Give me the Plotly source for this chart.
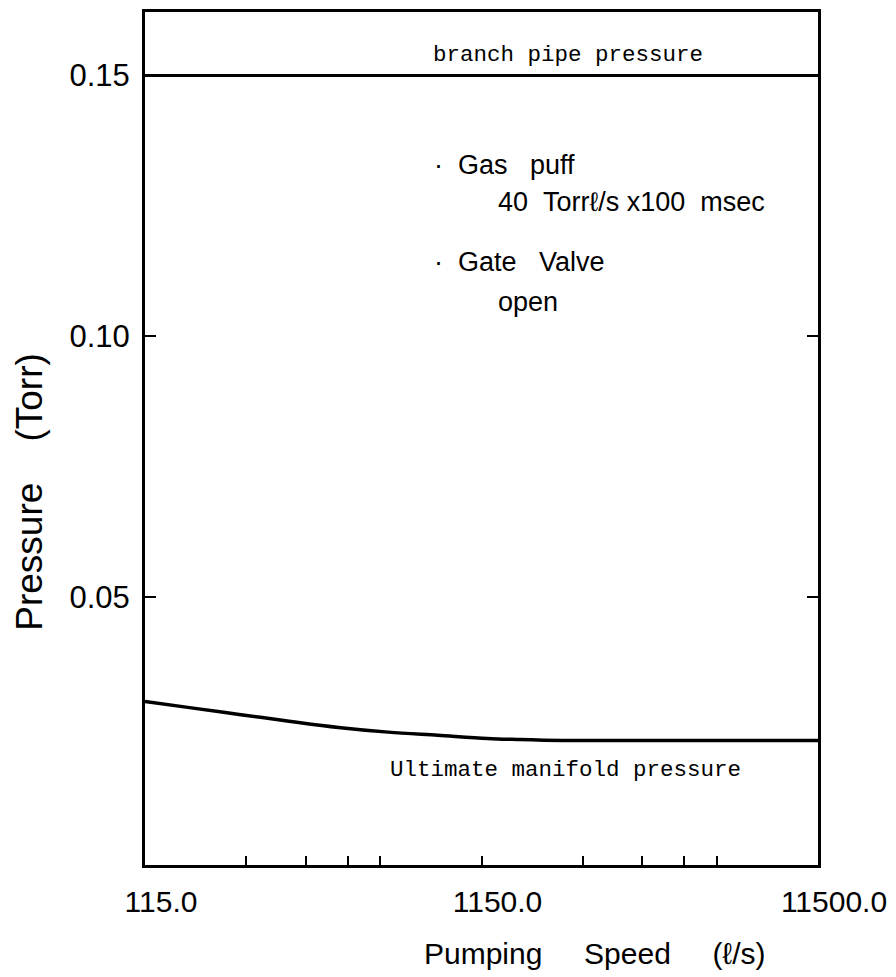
import math
import plotly.graph_objects as go

# Pumping speed (l/s), logarithmic axis
speed = [115, 156, 219, 308, 432, 607, 853, 1198, 1469, 2000, 3000, 5000, 8000, 11500]
# Ultimate manifold pressure (Torr)
manifold = [0.0299, 0.0287, 0.0274, 0.0261, 0.0249, 0.0240, 0.0234, 0.0228, 0.0226,
            0.0224, 0.0224, 0.0224, 0.0224, 0.0224]
# Branch pipe pressure (Torr)
branch_x = [115, 11500]
branch_y = [0.15, 0.15]

x_tickvals = [115, 1150, 11500]
x_ticktext = ["115.0", "1150.0", "11500.0"]
x_minor = [230, 345, 460, 575, 2300, 3450, 4600, 5750]
y_tickvals = [0.05, 0.10, 0.15]
y_ticktext = ["0.05", "0.10", "0.15"]

sans = "Liberation Sans, Arial, sans-serif"
mono = "Liberation Mono, DejaVu Sans Mono, monospace"
NB = "\u00a0"

fig = go.Figure()
fig.add_trace(go.Scatter(x=branch_x, y=branch_y, mode="lines",
                         line=dict(color="black", width=3), showlegend=False))
fig.add_trace(go.Scatter(x=speed, y=manifold, mode="lines", line_shape="spline",
                         line=dict(color="black", width=3.5), showlegend=False))

# curve labels
fig.add_annotation(x=0.628, y=0.1540, xref="x domain", yref="y", text="branch pipe pressure",
                   showarrow=False, font=dict(family=mono, size=22.5, color="black"),
                   xanchor="center", yanchor="middle")
fig.add_annotation(x=0.625, y=0.0167, xref="x domain", yref="y",
                   text="Ultimate manifold pressure",
                   showarrow=False, font=dict(family=mono, size=22.5, color="black"),
                   xanchor="center", yanchor="middle")

# experimental conditions
notes = [
    ("·" + NB * 2 + "Gas" + NB * 3 + "puff", 0.426, 0.1329),
    ("40" + NB * 2 + "Torr\u2113/s" + NB + "x100" + NB * 2 + "msec", 0.521, 0.1258),
    ("·" + NB * 2 + "Gate" + NB * 3 + "Valve", 0.426, 0.1143),
    ("open", 0.521, 0.1065),
]
for txt, xd, yv in notes:
    fig.add_annotation(x=xd, y=yv, xref="x domain", yref="y", text=txt, showarrow=False,
                       font=dict(family=sans, size=27, color="black"),
                       xanchor="left", yanchor="middle")

# axis titles
fig.add_annotation(x=0.668, y=-0.104, xref="paper", yref="paper",
                   text="Pumping" + NB * 5 + "Speed" + NB * 5 + "(\u2113/s)",
                   showarrow=False, font=dict(family=sans, size=30, color="black"),
                   xanchor="center", yanchor="middle")
fig.add_annotation(x=-0.1718, y=0.438, xref="paper", yref="paper",
                   text="Pressure" + NB * 4 + "(Torr)", textangle=-90,
                   showarrow=False, font=dict(family=sans, size=37, color="black"),
                   xanchor="center", yanchor="middle")

fig.update_xaxes(type="log", range=[math.log10(115), math.log10(11500)],
                 tickvals=x_tickvals, ticktext=x_ticktext,
                 ticks="inside", ticklen=9, tickwidth=2, tickcolor="black",
                 minor=dict(tickvals=x_minor, ticks="inside", ticklen=9, tickwidth=2,
                            tickcolor="black"),
                 ticklabelshift=16, ticklabelstandoff=8, ticklabeloverflow="allow",
                 showline=True, linecolor="black", linewidth=3, mirror=True,
                 showgrid=False, zeroline=False,
                 tickfont=dict(family=sans, size=30, color="black"))
fig.update_yaxes(range=[-0.0015, 0.1622],
                 tickvals=y_tickvals, ticktext=y_ticktext,
                 ticks="inside", ticklen=11, tickwidth=2, tickcolor="black",
                 ticklabelstandoff=6,
                 showline=True, linecolor="black", linewidth=3, mirror="ticks",
                 showgrid=False, zeroline=False,
                 tickfont=dict(family=sans, size=31, color="black"))

fig.update_layout(width=896, height=977, plot_bgcolor="white", paper_bgcolor="white",
                  margin=dict(l=145, r=73, t=9, b=112), showlegend=False)

fig.write_html("out.html")
